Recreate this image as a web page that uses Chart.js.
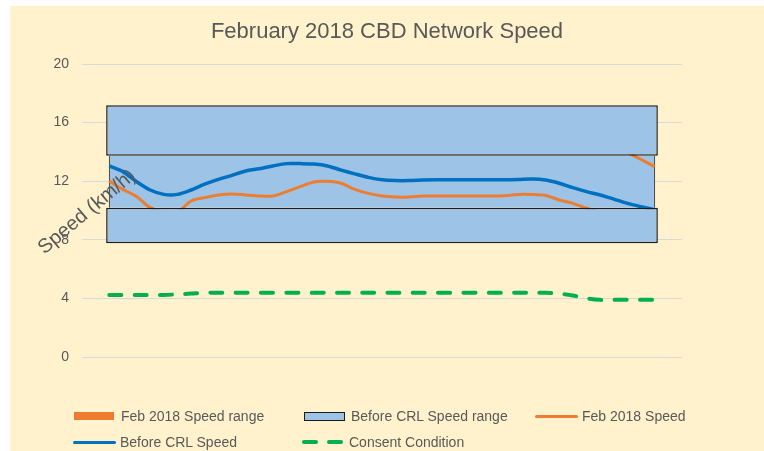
<!DOCTYPE html>
<html>
<head>
<meta charset="utf-8">
<script src="https://cdn.jsdelivr.net/npm/chart.js@4.4.1/dist/chart.umd.min.js"></script>
<style>
  body { margin: 0; background: #fff; }
  #wrap { position: absolute; left: 10px; top: 6px; width: 754px; height: 445px; background: #FFF2CC; }
  #myChart { position: absolute; left: 0; top: 0; }
  #title { position: absolute; left: 0; top: 11.7px; width: 754px; text-align: center; font: 22px/26px "Liberation Sans", Arial, sans-serif; color: #595959; }
  .lg-text { position: absolute; font: 14px "Liberation Sans", Arial, sans-serif; color: #595959; white-space: nowrap; line-height: 16px; }
  .lg-mark { position: absolute; }
</style>
</head>
<body>
<div id="wrap">
  <canvas id="myChart" width="754" height="445"></canvas>
  <div id="title">February 2018 CBD Network Speed</div>
  <div id="legend"></div>
</div>
<script>
"use strict";

// 15 minute readings, 07:00 - 17:00
const times = [
  "07:00", "07:15", "07:30", "07:45", "08:00", "08:15", "08:30", "08:45",
  "09:00", "09:15", "09:30", "09:45", "10:00", "10:15", "10:30", "10:45",
  "11:00", "11:15", "11:30", "11:45", "12:00", "12:15", "12:30", "12:45",
  "13:00", "13:15", "13:30", "13:45", "14:00", "14:15", "14:30", "14:45",
  "15:00", "15:15", "15:30", "15:45", "16:00", "16:15", "16:30", "16:45",
  "17:00"
];
const hourLabels = ["07:00", "08:00", "09:00", "10:00", "11:00", "12:00", "13:00", "14:00", "15:00", "16:00", "17:00"];

const beforeCrlSpeed = [
  13.04, 12.65, 11.97, 11.40, 11.10, 11.10, 11.40, 11.80,
  12.13, 12.40, 12.70, 12.85, 13.04, 13.20, 13.20, 13.17,
  13.04, 12.76, 12.50, 12.26, 12.10, 12.04, 12.04, 12.08,
  12.10, 12.10, 12.10, 12.10, 12.10, 12.10, 12.12, 12.15,
  12.08, 11.86, 11.56, 11.29, 11.06, 10.78, 10.49, 10.26,
  10.05
];
const feb2018Speed = [
  12.01, 11.44, 10.95, 10.20, 9.90, 9.90, 10.65, 10.88,
  11.06, 11.13, 11.06, 10.99, 10.99, 11.29, 11.63, 11.95,
  11.99, 11.86, 11.44, 11.17, 10.99, 10.92, 10.92, 10.99,
  10.99, 10.99, 10.99, 10.99, 10.99, 11.00, 11.10, 11.10,
  11.03, 10.72, 10.49, 10.15, 9.90, null, 13.97, 13.48,
  12.99
];
const consentCondition = [
  4.23, 4.23, 4.23, 4.23, 4.23, 4.28, 4.33, 4.39,
  4.39, 4.39, 4.39, 4.39, 4.39, 4.39, 4.39, 4.39,
  4.39, 4.39, 4.39, 4.39, 4.39, 4.39, 4.39, 4.39,
  4.39, 4.39, 4.39, 4.39, 4.39, 4.39, 4.39, 4.39,
  4.39, 4.33, 4.20, 4.00, 3.90, 3.90, 3.90, 3.90,
  3.90
];

// Before CRL speed range bands (low, high)
const beforeRangeLow = [7.76, 10.19, 13.74];
const beforeRangeHigh = [10.19, 13.74, 17.18];

const yTicks = [0, 4, 8, 12, 16, 20];

function toHours(t) {
  const parts = t.split(":");
  return Number(parts[0]) + Number(parts[1]) / 60;
}

function points(values) {
  return times.map((t, i) => ({ x: toHours(t), y: values[i] }));
}

const textColor = "#595959";
const fontFamily = '"Liberation Sans", Arial, sans-serif';

// the angled y axis title sits over the plot
const yLabelPlugin = {
  id: "yLabel",
  afterDraw(chart) {
    const ctx = chart.ctx;
    ctx.save();
    ctx.translate(77, 206);
    ctx.rotate(-40 * Math.PI / 180);
    ctx.font = "20px " + fontFamily;
    ctx.fillStyle = textColor;
    ctx.textAlign = "center";
    ctx.textBaseline = "middle";
    ctx.fillText("Speed (km/h)", 0, 0);
    ctx.restore();
  }
};

function bandDataset(i, order, width, sides) {
  return {
    type: "bar",
    label: "Before CRL Speed range",
    data: [[beforeRangeLow[i], beforeRangeHigh[i]]],
    xAxisID: "xb",
    backgroundColor: "#9DC3E6",
    borderColor: "#1c1c1c",
    borderWidth: sides,
    borderSkipped: false,
    grouped: false,
    barPercentage: 1,
    categoryPercentage: width,
    order: order
  };
}

const datasets = [
  bandDataset(1, 3, 0.9105, { left: 1, right: 1, top: 0, bottom: 0 }),
  {
    label: "Feb 2018 Speed",
    data: points(feb2018Speed),
    borderColor: "#ED7D31",
    borderWidth: 3,
    pointRadius: 0,
    tension: 0.3,
    order: 1
  },
  {
    label: "Before CRL Speed",
    data: points(beforeCrlSpeed),
    borderColor: "#0070C0",
    borderWidth: 3.5,
    pointRadius: 0,
    tension: 0.3,
    order: 1
  },
  {
    label: "Consent Condition",
    data: points(consentCondition),
    borderColor: "#00B050",
    borderWidth: 4,
    borderDash: [12, 13.3],
    borderCapStyle: "round",
    pointRadius: 0,
    tension: 0.3,
    order: 1
  },
  bandDataset(0, 0, 0.9195, 1.5),
  bandDataset(2, 0, 0.9195, 1.5)
];

const config = {
  type: "line",
  data: { datasets: datasets },
  options: {
    responsive: false,
    animation: false,
    layout: { padding: { top: 58, right: 82, bottom: 64, left: 0 } },
    plugins: {
      legend: { display: false },
      tooltip: { enabled: false },
      title: { display: false }
    },
    scales: {
      x: {
        type: "linear",
        min: 6.5,
        max: 17.5,
        grid: { display: false, drawTicks: false },
        border: { display: false },
        afterFit(scale) { scale.height = 30; },
        ticks: {
          stepSize: 1,
          includeBounds: false,
          padding: 10,
          color: textColor,
          font: { family: fontFamily, size: 14 },
          callback: (v) => hourLabels[v - 7]
        }
      },
      xb: {
        type: "category",
        labels: ["range"],
        offset: true,
        display: false
      },
      y: {
        min: 0,
        max: 20,
        afterFit(scale) { scale.width = 72; },
        afterBuildTicks(scale) { scale.ticks = yTicks.map(v => ({ value: v })); },
        grid: { color: "#D9D9D9", drawTicks: false },
        border: { display: false },
        ticks: {
          padding: 13,
          color: textColor,
          font: { family: fontFamily, size: 14 }
        }
      }
    }
  },
  plugins: [yLabelPlugin]
};

const ctx = document.getElementById("myChart").getContext("2d");
new Chart(ctx, config);

// legend, laid out like the original two rows
const legendItems = [
  { label: "Feb 2018 Speed range", kind: "box", color: "#ED7D31", x: 64, y: 410 },
  { label: "Before CRL Speed range", kind: "outlined", color: "#9DC3E6", x: 294, y: 410 },
  { label: "Feb 2018 Speed", kind: "line", color: "#ED7D31", x: 525, y: 410 },
  { label: "Before CRL Speed", kind: "line", color: "#0070C0", x: 63, y: 436 },
  { label: "Consent Condition", kind: "dash", color: "#00B050", x: 292, y: 436 }
];

const legendEl = document.getElementById("legend");
legendItems.forEach(item => {
  const marks = [];
  if (item.kind === "box") {
    marks.push({ left: item.x, top: item.y - 4, w: 40, h: 8, css: "" });
  } else if (item.kind === "outlined") {
    marks.push({ left: item.x, top: item.y - 4.5, w: 41, h: 9, css: "border:1.5px solid #1c1c1c;box-sizing:border-box;" });
  } else if (item.kind === "line") {
    marks.push({ left: item.x, top: item.y - 1.5, w: 43, h: 3, css: "border-radius:1.5px;" });
  } else {
    marks.push({ left: item.x, top: item.y - 2, w: 16, h: 4, css: "border-radius:2px;" });
    marks.push({ left: item.x + 25, top: item.y - 2, w: 16, h: 4, css: "border-radius:2px;" });
  }
  marks.forEach(m => {
    const d = document.createElement("div");
    d.className = "lg-mark";
    d.style.cssText = "left:" + m.left + "px;top:" + m.top + "px;width:" + m.w + "px;height:" + m.h + "px;background:" + item.color + ";" + m.css;
    legendEl.appendChild(d);
  });
  const t = document.createElement("div");
  t.className = "lg-text";
  t.style.left = (item.x + 47) + "px";
  t.style.top = (item.y - 8) + "px";
  t.textContent = item.label;
  legendEl.appendChild(t);
});
</script>
</body>
</html>
